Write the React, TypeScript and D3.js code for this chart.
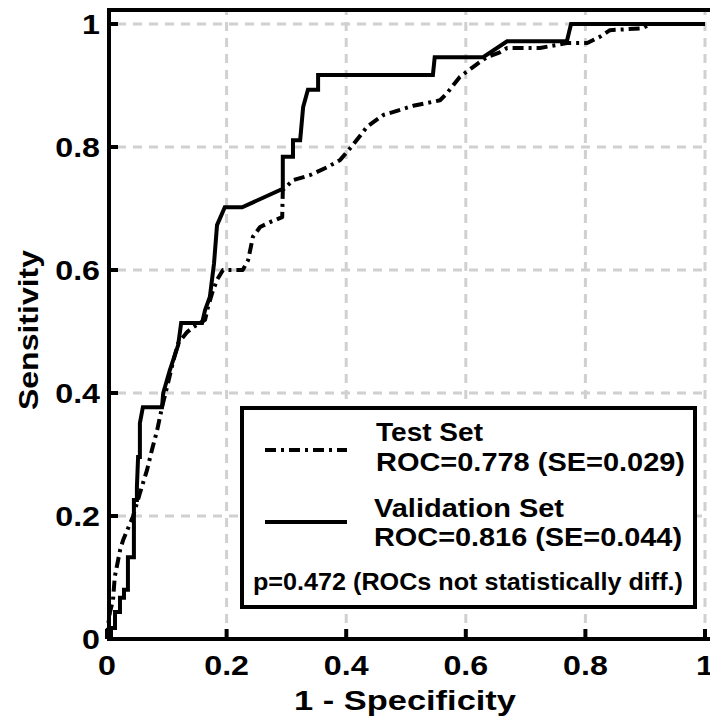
import React from "react";
import * as d3 from "d3";

// ---- data ----
const testFpr = [0, 0.002, 0.005, 0.010, 0.013, 0.022, 0.027, 0.043, 0.055, 0.067, 0.075, 0.084, 0.092, 0.102, 0.110, 0.119, 0.134, 0.144, 0.164, 0.169, 0.176, 0.184, 0.194, 0.227, 0.236, 0.244, 0.256, 0.273, 0.293, 0.294, 0.311, 0.339, 0.368, 0.390, 0.411, 0.435, 0.462, 0.512, 0.557, 0.569, 0.590, 0.612, 0.635, 0.657, 0.669, 0.724, 0.769, 0.803, 0.824, 0.841, 0.896, 0.908, 1];
const testTpr = [0, 0.023, 0.044, 0.063, 0.101, 0.145, 0.161, 0.198, 0.237, 0.275, 0.307, 0.340, 0.377, 0.416, 0.449, 0.481, 0.499, 0.507, 0.519, 0.540, 0.563, 0.584, 0.600, 0.600, 0.616, 0.654, 0.670, 0.678, 0.686, 0.730, 0.746, 0.754, 0.767, 0.779, 0.803, 0.833, 0.852, 0.867, 0.876, 0.888, 0.914, 0.930, 0.946, 0.954, 0.961, 0.961, 0.969, 0.969, 0.979, 0.990, 0.993, 1.0, 1];

const valFpr = [0, 0.0067, 0.0067, 0.0134, 0.0134, 0.0217, 0.0217, 0.0284, 0.0284, 0.035, 0.035, 0.045, 0.045, 0.050, 0.050, 0.052, 0.055, 0.055, 0.060, 0.092, 0.094, 0.105, 0.119, 0.124, 0.159, 0.164, 0.172, 0.179, 0.184, 0.197, 0.226, 0.294, 0.294, 0.311, 0.311, 0.323, 0.328, 0.336, 0.353, 0.353, 0.545, 0.548, 0.629, 0.669, 0.769, 0.776, 1];
const valTpr = [0, 0, 0.018, 0.018, 0.044, 0.044, 0.067, 0.067, 0.080, 0.080, 0.133, 0.133, 0.226, 0.226, 0.247, 0.296, 0.296, 0.351, 0.377, 0.377, 0.400, 0.437, 0.478, 0.514, 0.514, 0.535, 0.556, 0.611, 0.673, 0.702, 0.702, 0.732, 0.784, 0.784, 0.811, 0.811, 0.865, 0.893, 0.893, 0.917, 0.917, 0.946, 0.946, 0.972, 0.972, 1.0, 1];

const xTicks = [0, 0.2, 0.4, 0.6, 0.8, 1];
const yTicks = [0, 0.2, 0.4, 0.6, 0.8, 1];
const xTickLabels = ["0", "0.2", "0.4", "0.6", "0.8", "1"];
const yTickLabels = ["0", "0.2", "0.4", "0.6", "0.8", "1"];

const legendNames = ["Test Set", "Validation Set"];
const legendStats = ["ROC=0.778 (SE=0.029)", "ROC=0.816 (SE=0.044)"];
const pValueText = "p=0.472 (ROCs not statistically diff.)";
const xTitle = "1 - Specificity";
const yTitle = "Sensitivity";

const W = 710;
const H = 721;
const FONT = "'Liberation Sans', Arial, Helvetica, sans-serif";

export default function App() {
  const x = d3.scaleLinear().domain([0, 1]).range([107, 705]);
  const y = d3.scaleLinear().domain([0, 1]).range([639, 24]);
  const topY = 10;

  const line = d3
    .line<[number, number]>()
    .x((d) => x(d[0]))
    .y((d) => y(d[1]));

  const testPts: [number, number][] = testFpr.map((f, i) => [f, testTpr[i]]);
  const valPts: [number, number][] = valFpr.map((f, i) => [f, valTpr[i]]);

  const gridColor = "#d0d0d0";
  const axisX = 109;
  const axisY = 639;

  return (
    <svg
      width={W}
      height={H}
      style={{ position: "absolute", left: 0, top: 0, background: "#fff" }}
      fontFamily={FONT}
      fontWeight="bold"
    >
      <rect x={0} y={0} width={W} height={H} fill="#fff" />
      {/* grid */}
      <g stroke={gridColor} strokeWidth={3} strokeDasharray="9,7">
        {xTicks.filter((t) => t > 0).map((t) => (
          <line key={"gx" + t} x1={x(t)} x2={x(t)} y1={axisY} y2={topY + 2} />
        ))}
        {yTicks.filter((t) => t > 0).map((t) => (
          <line key={"gy" + t} x1={axisX + 8} x2={x(1)} y1={y(t)} y2={y(t)} />
        ))}
      </g>

      {/* curves */}
      <path
        d={line(testPts) || ""}
        fill="none"
        stroke="#000"
        strokeWidth={4}
        strokeDasharray="11,5,3,5"
        strokeLinejoin="round"
      />
      <path
        d={line(valPts) || ""}
        fill="none"
        stroke="#000"
        strokeWidth={4}
        strokeLinejoin="miter"
      />

      {/* axes frame */}
      <line x1={axisX} x2={axisX} y1={topY - 2} y2={axisY + 2} stroke="#000" strokeWidth={4} />
      <line x1={axisX - 2} x2={W} y1={axisY} y2={axisY} stroke="#000" strokeWidth={4} />
      <line x1={axisX - 2} x2={W} y1={topY} y2={topY} stroke="#000" strokeWidth={4} />

      {/* ticks */}
      {xTicks.map((t) => (
        <line key={"tx" + t} x1={x(t)} x2={x(t)} y1={axisY} y2={axisY - 10} stroke="#000" strokeWidth={4} />
      ))}
      {yTicks.map((t) => (
        <line key={"ty" + t} x1={axisX} x2={axisX + 9} y1={y(t)} y2={y(t)} stroke="#000" strokeWidth={4} />
      ))}

      {/* tick labels */}
      {xTicks.map((t, i) => (
        <g key={"lx" + t} transform={`translate(${x(t)},${675}) scale(1.15,1)`}>
          <text textAnchor="middle" fontSize={28} fill="#000">
            {xTickLabels[i]}
          </text>
        </g>
      ))}
      {yTicks.map((t, i) => (
        <g key={"ly" + t} transform={`translate(${100},${y(t) + 10}) scale(1.15,1)`}>
          <text textAnchor="end" fontSize={28} fill="#000">
            {yTickLabels[i]}
          </text>
        </g>
      ))}

      {/* axis titles */}
      <text
        x={405}
        y={710}
        textAnchor="middle"
        fontSize={28}
        textLength={222}
        lengthAdjust="spacingAndGlyphs"
        fill="#000"
      >
        {xTitle}
      </text>
      <text
        transform={`translate(38,330) rotate(-90)`}
        textAnchor="middle"
        fontSize={28}
        textLength={160}
        lengthAdjust="spacingAndGlyphs"
        fill="#000"
      >
        {yTitle}
      </text>

      {/* legend */}
      <rect x={242} y={408} width={453} height={199} fill="#fff" stroke="#000" strokeWidth={4} />
      <line x1={265} x2={347} y1={450} y2={450} stroke="#000" strokeWidth={4} strokeDasharray="11,5,3,5" />
      <line x1={265} x2={347} y1={522} y2={522} stroke="#000" strokeWidth={4} />
      <text x={376} y={441} fontSize={26} textLength={107} lengthAdjust="spacingAndGlyphs" fill="#000">
        {legendNames[0]}
      </text>
      <text x={376} y={471} fontSize={26} textLength={309} lengthAdjust="spacingAndGlyphs" fill="#000">
        {legendStats[0]}
      </text>
      <text x={374} y={517} fontSize={26} textLength={190} lengthAdjust="spacingAndGlyphs" fill="#000">
        {legendNames[1]}
      </text>
      <text x={374} y={546} fontSize={26} textLength={308} lengthAdjust="spacingAndGlyphs" fill="#000">
        {legendStats[1]}
      </text>
      <text x={253} y={590} fontSize={24} textLength={430} lengthAdjust="spacingAndGlyphs" fill="#000">
        {pValueText}
      </text>
    </svg>
  );
}
